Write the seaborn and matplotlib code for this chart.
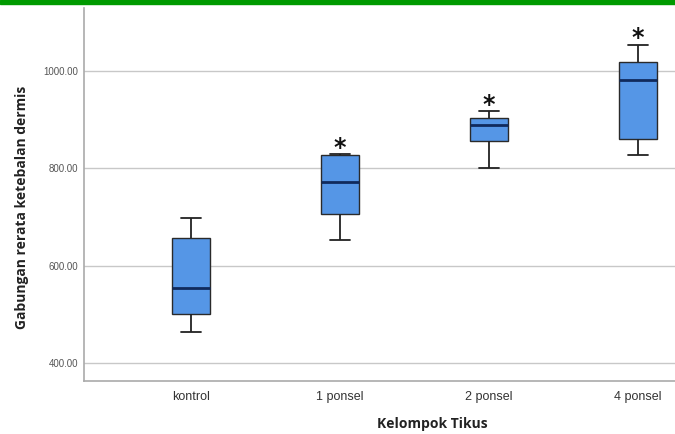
import numpy as np
import pandas as pd
import matplotlib
matplotlib.use("Agg")
import matplotlib.pyplot as plt
import seaborn as sns
from matplotlib.patches import Rectangle

# --- Data (five-number summaries) ---
groups = ["kontrol", "1 ponsel", "2 ponsel", "4 ponsel"]
kontrol = [464, 501, 553, 656, 697]
ponsel_1 = [652, 705, 771, 828, 829]
ponsel_2 = [800, 856, 889, 903, 917]
ponsel_4 = [827, 860, 981, 1019, 1054]
significant = ["1 ponsel", "2 ponsel", "4 ponsel"]
y_ticks = [400, 600, 800, 1000]

df = pd.DataFrame({
    "kelompok": np.repeat(groups, 5),
    "nilai": kontrol + ponsel_1 + ponsel_2 + ponsel_4,
})

sns.set_style("white")
plt.rcParams["font.family"] = ["Liberation Sans", "DejaVu Sans"]

fig = plt.figure(figsize=(6.75, 4.34), dpi=100)
ax = fig.add_axes([84 / 675, 53 / 434, 1 - 84 / 675, (381 - 8) / 434])

for y in y_ticks:
    ax.axhline(y, color="#c8c8c8", lw=1.0, zorder=0)

sns.boxplot(
    data=df, x="kelompok", y="nilai", order=groups, ax=ax,
    whis=(0, 100), width=0.26, color="#5596e6", saturation=1,
    linecolor="#2a2a2a", linewidth=1.0,
    medianprops=dict(color="#102a5c", linewidth=2.0),
    whiskerprops=dict(color="#222222", linewidth=1.3),
    capprops=dict(color="#222222", linewidth=1.3),
)

# significance markers above the upper whisker
for name, vals in zip(groups, [kontrol, ponsel_1, ponsel_2, ponsel_4]):
    if name in significant:
        ax.annotate("*", xy=(groups.index(name), max(vals)), xytext=(0, -4),
                    textcoords="offset points", ha="center", va="bottom",
                    fontsize=17, fontweight="bold", color="#111111",
                    family="DejaVu Sans")

ax.set_xlim(-0.718, 3.248)
ax.set_ylim(363, 1129)
ax.set_yticks(y_ticks)
ax.set_yticklabels([f"{v:.2f}" for v in y_ticks], fontsize=7, color="#555555")
ax.tick_params(axis="x", labelsize=9, colors="#333333", length=0, pad=7)
ax.tick_params(axis="y", length=0, pad=4)
ax.set_xlabel("Kelompok Tikus", fontsize=10, fontweight="bold",
              family="Open Sans", color="#222222")
ax.set_ylabel("Gabungan rerata ketebalan dermis", fontsize=10, fontweight="bold",
              family="Open Sans", color="#222222")
ax.xaxis.set_label_coords(0.589, -0.097)
ax.yaxis.set_label_coords(-0.093, 0.466)

for side in ["top", "right"]:
    ax.spines[side].set_visible(False)
for side in ["left", "bottom"]:
    ax.spines[side].set_color("#aaaaaa")
    ax.spines[side].set_linewidth(1.2)

# green border at the top of the picture
fig.add_artist(Rectangle((0, 1 - 4 / 434), 1, 4 / 434, transform=fig.transFigure,
                         color="#009a00", zorder=10))

fig.savefig("out.png", dpi=100)
